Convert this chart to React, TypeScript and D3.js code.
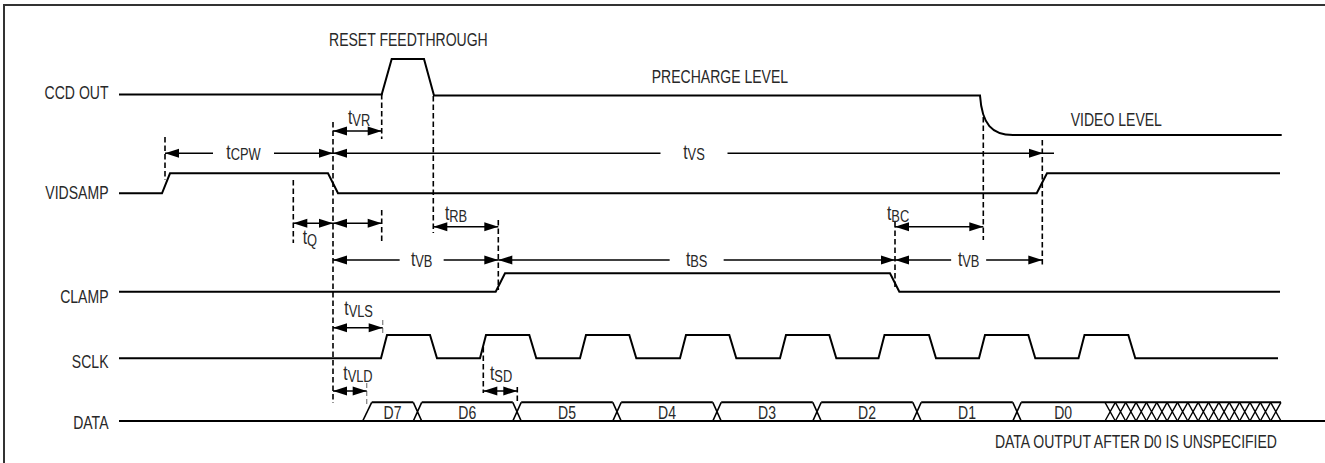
import React from 'react';
import * as d3 from 'd3';

// ---- data (time units; 0 = start of the signal lines) ----
const signalNames = ['CCD OUT', 'VIDSAMP', 'CLAMP', 'SCLK', 'DATA'];

// CCD OUT analog waveform: [time, normalised level]
const ccdPoints: [number, number][] = [
  [0, 0.533], [262.7, 0.533], [272.7, 1], [305, 1], [315, 0.52], [861, 0.52],
];
const ccdVideoSettle: [number, number] = [894, 0];
const ccdEnd = 1162.7;

// digital edges: [edge start, edge end], alternating rise / fall
const vidsampEdges: [number, number][] = [[43, 51], [209, 219], [917.7, 928]];
const vidsampEnd = 1161;
const clampEdges: [number, number][] = [[376.7, 386], [771, 780.3]];
const clampEnd = 1161;
const sclkRises = [262, 361, 461, 561, 661, 759.5, 860, 959.5];
const sclkFalls = [311, 410.3, 510.3, 610.3, 710.3, 810, 909.3, 1009.3];
const sclkEnd = 1159;

const dataStart: [number, number] = [243.7, 252.7];
const dataTransitions = [298.5, 398, 498, 598, 698, 798, 898];
const dataLabels = ['D7', 'D6', 'D5', 'D4', 'D3', 'D2', 'D1', 'D0'];
const dataHatch: [number, number] = [986, 1162];
const dataHatchCells = 17;
const dataLowEnd = 1210;

// timing dimensions
const dimLabels = ['VR', 'CPW', 'VS', 'Q', '', 'RB', 'BC', 'VB', 'BS', 'VB', 'VLS', 'VLD', 'SD'];
const dimStarts = [214, 46, 214, 174.3, 214, 314.3, 776, 214, 379.3, 776, 214, 214, 364.3];
const dimEnds = [262.7, 214, 924, 214, 262.7, 379.3, 864.3, 379.3, 776, 923.3, 263.7, 247.7, 398.3];

// dashed reference lines
const markerTimes = [46, 174.3, 214, 262.7, 262.7, 314.3, 379.3, 776, 864.3, 923.3, 364.3, 398.3];
const greyMarkerTimes = [263.7, 247.7];

const annotations = ['RESET FEEDTHROUGH', 'PRECHARGE LEVEL', 'VIDEO LEVEL', 'DATA OUTPUT AFTER D0 IS UNSPECIFIED'];

// ---- layout ----
const FONT = "'Liberation Sans', Arial, sans-serif";
const SX = 0.78;
const FS = 18;
const TXT = '#282828';

const x = d3.scaleLinear().domain([0, 1206]).range([119, 1325]);
const ccdY = d3.scaleLinear().domain([0, 1]).range([135, 59]);
const rows = {
  vidsamp: d3.scaleLinear().domain([0, 1]).range([193.3, 173.3]),
  clamp: d3.scaleLinear().domain([0, 1]).range([291.7, 273.3]),
  sclk: d3.scaleLinear().domain([0, 1]).range([358.3, 335]),
  data: d3.scaleLinear().domain([0, 1]).range([421, 402.3]),
};
const labelBaselines = [99, 198.5, 302.7, 367.7, 429];

const dimLayout = [
  { y: 131, mode: 'above', lx: 15, ly: -7 },
  { y: 153.3, mode: 'gap', dx: -5.5, gap: 30.5 },
  { y: 153.3, mode: 'gap', dx: 6, gap: 33.5, ext: 11 },
  { y: 223.3, mode: 'above', lx: 9.4, ly: 21 },
  { y: 223.3, mode: 'none' },
  { y: 226.7, mode: 'above', lx: 11.7, ly: -6.7 },
  { y: 226.7, mode: 'above', lx: -8, ly: -6.7 },
  { y: 260, mode: 'gap', dx: 6, gap: 22 },
  { y: 260, mode: 'gap', dx: 0, gap: 27 },
  { y: 260, mode: 'gap', dx: 0, gap: 17.5 },
  { y: 327.7, mode: 'above', lx: 11.3, ly: -12.7 },
  { y: 391, mode: 'above', lx: 10.3, ly: -11 },
  { y: 391, mode: 'above', lx: 6.7, ly: -11 },
];
const markerSpans: [number, number][] = [
  [137, 180], [180, 243], [122, 403], [94, 139], [210, 243], [96, 233],
  [220, 290], [222, 290], [117, 240], [140, 267], [347, 393], [387, 402],
];
const greyMarkerSpans: [number, number][] = [[320, 333], [383, 405]];
const annotationPos = [
  { x: 329, y: 45.7, anchor: 'start' },
  { x: 651.7, y: 83.3, anchor: 'start' },
  { x: 1070.7, y: 126, anchor: 'start' },
  { x: 1277, y: 448.3, anchor: 'end' },
];

function digital(edges: [number, number][], end: number): [number, number][] {
  const pts: [number, number][] = [[0, 0]];
  let lvl = 0;
  edges.forEach(([a, b]) => {
    pts.push([a, lvl]);
    lvl = 1 - lvl;
    pts.push([b, lvl]);
  });
  pts.push([end, lvl]);
  return pts;
}

function sclkEdges(): [number, number][] {
  const e: [number, number][] = [];
  sclkRises.forEach((r, i) => {
    e.push([r, r + 6]);
    e.push([sclkFalls[i], sclkFalls[i] + 7]);
  });
  return e;
}

function NText({ px, py, anchor, size, children }: any) {
  return (
    <text transform={`translate(${px},${py}) scale(${SX},1)`} textAnchor={anchor}
      fontFamily={FONT} fontSize={size || FS} fill={TXT}>{children}</text>
  );
}

function Arrowhead({ tipX, y, dir }: { tipX: number; y: number; dir: number }) {
  const L = 14, h = 4.5;
  return <polygon points={`${tipX},${y} ${tipX + dir * L},${y - h} ${tipX + dir * L},${y + h}`} fill="#000" />;
}

function TLabel({ px, py, sub, anchor }: { px: number; py: number; sub: string; anchor: string }) {
  return (
    <NText px={px} py={py} anchor={anchor} size={20}>
      t<tspan fontSize={16.5} dy={1.5}>{sub}</tspan>
    </NText>
  );
}

export default function App() {
  const line = d3.line<[number, number]>();

  const ccdPx = ccdPoints.map(([t, v]) => [x(t), ccdY(v)] as [number, number]);
  const last = ccdPx[ccdPx.length - 1];
  const settle = [x(ccdVideoSettle[0]), ccdY(ccdVideoSettle[1])];
  const path = d3.path();
  path.moveTo(ccdPx[0][0], ccdPx[0][1]);
  ccdPx.slice(1).forEach(([a, b]) => path.lineTo(a, b));
  path.bezierCurveTo(last[0] + 2, ccdY(0.14), x(ccdPoints[5][0] + 12), settle[1], settle[0], settle[1]);
  path.lineTo(x(ccdEnd), settle[1]);

  const mk = (edges: [number, number][], end: number, sc: d3.ScaleLinear<number, number>) =>
    line(digital(edges, end).map(([t, l]) => [x(t), sc(l)] as [number, number])) || '';

  const dy0 = rows.data(0), dy1 = rows.data(1);
  const hw = 4.2;
  const cellBounds: [number, number][] = [];
  const starts = [dataStart[1], ...dataTransitions.map((t) => t + hw)];
  const ends = [...dataTransitions.map((t) => t - hw), dataHatch[0]];
  starts.forEach((s, i) => cellBounds.push([s, ends[i]]));
  const hatchW = (dataHatch[1] - dataHatch[0]) / dataHatchCells;

  return (
    <svg width={1325} height={463} style={{ position: 'absolute', left: 0, top: 0, background: '#fff' }}>
      <path d="M4,470 L4,5 L1330,5" fill="none" stroke="#333" strokeWidth={2} />

      {signalNames.map((n, i) => (
        <NText key={n} px={108.5} py={labelBaselines[i]} anchor="end">{n}</NText>
      ))}

      <g fill="none" stroke="#000" strokeWidth={2} strokeLinejoin="miter">
        <path d={path.toString()} />
        <path d={mk(vidsampEdges, vidsampEnd, rows.vidsamp)} />
        <path d={mk(clampEdges, clampEnd, rows.clamp)} />
        <path d={mk(sclkEdges(), sclkEnd, rows.sclk)} />
        <path d={line([[x(0), dy0], [x(dataLowEnd), dy0]]) || ''} />
        <path d={line([[x(dataStart[0]), dy0], [x(dataStart[1]), dy1]]) || ''} strokeWidth={1.6} />
        {cellBounds.map(([a, b], i) => (
          <path key={'c' + i} d={line([[x(a), dy1], [x(b), dy1]]) || ''} />
        ))}
        {dataTransitions.map((t, i) => (
          <path key={'x' + i} strokeWidth={1.6}
            d={`M${x(t - hw)},${dy1}L${x(t + hw)},${dy0}M${x(t - hw)},${dy0}L${x(t + hw)},${dy1}`} />
        ))}
        <path d={line([[x(dataHatch[0]), dy1], [x(dataHatch[1]), dy1]]) || ''} />
        {d3.range(dataHatchCells).map((k) => {
          const a = dataHatch[0] + k * hatchW, b = a + hatchW;
          return <path key={'h' + k} strokeWidth={1.4} d={`M${x(a)},${dy1}L${x(b)},${dy0}M${x(a)},${dy0}L${x(b)},${dy1}`} />;
        })}
      </g>

      {dataLabels.map((l, i) => (
        <NText key={l} px={x((cellBounds[i][0] + cellBounds[i][1]) / 2)} py={419.3} anchor="middle">{l}</NText>
      ))}

      <g stroke="#000" strokeWidth={1.6} strokeDasharray="5.5,3">
        {markerTimes.map((t, i) => (
          <line key={'m' + i} x1={x(t)} x2={x(t)} y1={markerSpans[i][0]} y2={markerSpans[i][1]} />
        ))}
      </g>
      <g stroke="#888" strokeWidth={1.3} strokeDasharray="5,3">
        {greyMarkerTimes.map((t, i) => (
          <line key={'g' + i} x1={x(t)} x2={x(t)} y1={greyMarkerSpans[i][0]} y2={greyMarkerSpans[i][1]} />
        ))}
      </g>

      {dimLabels.map((lab, i) => {
        const L = dimLayout[i] as any;
        const x1 = x(dimStarts[i]), x2 = x(dimEnds[i]);
        const y = L.y;
        const segs: [number, number][] = [];
        let labelEl = null;
        if (L.mode === 'gap') {
          const c = (x1 + x2) / 2 + L.dx;
          segs.push([x1, c - L.gap], [c + L.gap, x2 + (L.ext || 0)]);
          labelEl = <TLabel px={c} py={y + 5.5} sub={lab} anchor="middle" />;
        } else {
          segs.push([x1, x2]);
          if (L.mode === 'above') labelEl = <TLabel px={x1 + L.lx} py={y + L.ly} sub={lab} anchor="start" />;
        }
        return (
          <g key={'d' + i}>
            {segs.map(([a, b], k) => (
              <line key={k} x1={a} x2={b} y1={y} y2={y} stroke="#000" strokeWidth={1.4} />
            ))}
            <Arrowhead tipX={x1} y={y} dir={1} />
            <Arrowhead tipX={x2} y={y} dir={-1} />
            {labelEl}
          </g>
        );
      })}

      {annotations.map((a, i) => (
        <NText key={a} px={annotationPos[i].x} py={annotationPos[i].y} anchor={annotationPos[i].anchor}>{a}</NText>
      ))}
    </svg>
  );
}
